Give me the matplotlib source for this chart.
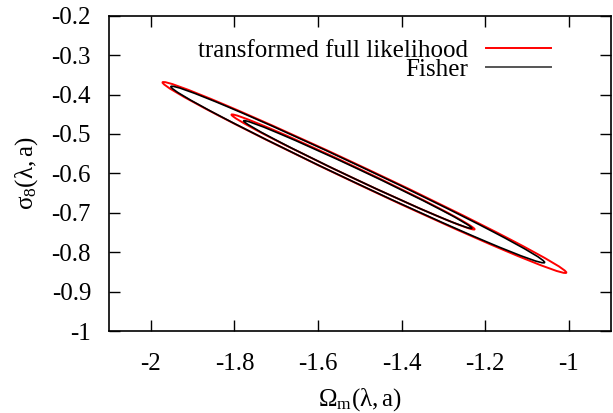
import numpy as np
import matplotlib
matplotlib.use("Agg")
import matplotlib.pyplot as plt
from matplotlib.patches import Ellipse
from matplotlib.lines import Line2D

# Fisher forecast: fiducial point, marginal errors and correlation
fid_omega = -1.505
fid_sigma8 = -0.603
err_omega = 0.180
err_sigma8 = 0.0902
corr = -0.9945
dchi2_levels = [2.30, 6.17]          # 68.3% and 95.4% regions in 2D

# Transformed full likelihood contours (68.3%, 95.4%):
# end points along the degeneracy direction and half-width across it
like_lo_omega = [-1.807, -1.972]
like_lo_sigma8 = [-0.451, -0.369]
like_hi_omega = [-1.2255, -1.006]
like_hi_sigma8 = [-0.742, -0.852]
like_halfwidth = [0.0137, 0.0220]

x_ticks = [-2.0, -1.8, -1.6, -1.4, -1.2, -1.0]
x_ticklabels = ["-2", "-1.8", "-1.6", "-1.4", "-1.2", "-1"]
y_ticks = [-1.0, -0.9, -0.8, -0.7, -0.6, -0.5, -0.4, -0.3, -0.2]
y_ticklabels = ["-1", "-0.9", "-0.8", "-0.7", "-0.6", "-0.5", "-0.4", "-0.3", "-0.2"]

plt.rcParams["font.family"] = ["Liberation Serif", "DejaVu Serif"]
plt.rcParams["mathtext.fontset"] = "custom"
plt.rcParams["mathtext.rm"] = "Liberation Serif"
plt.rcParams["mathtext.it"] = "Liberation Serif"
plt.rcParams["mathtext.bf"] = "Liberation Serif:bold"

FS = 18
fig = plt.figure(figsize=(6.13, 4.13), dpi=100)
ax = fig.add_axes([0.178, 0.1985, 0.818, 0.7635])

# full likelihood contours
for k in range(len(like_lo_omega)):
    x0, y0 = like_lo_omega[k], like_lo_sigma8[k]
    x1, y1 = like_hi_omega[k], like_hi_sigma8[k]
    length = np.hypot(x1 - x0, y1 - y0)
    ang = np.degrees(np.arctan2(y1 - y0, x1 - x0))
    ax.add_patch(Ellipse(((x0 + x1) / 2, (y0 + y1) / 2), length,
                         2 * like_halfwidth[k], angle=ang,
                         fill=False, edgecolor="#ff0000", lw=1.4, zorder=2))

# Fisher ellipses from the covariance matrix
cov = np.array([[err_omega ** 2, corr * err_omega * err_sigma8],
                [corr * err_omega * err_sigma8, err_sigma8 ** 2]])
vals, vecs = np.linalg.eigh(cov)
major = vecs[:, 1]
fisher_angle = np.degrees(np.arctan2(major[1], major[0]))
for lev in dchi2_levels:
    ax.add_patch(Ellipse((fid_omega, fid_sigma8),
                         2 * np.sqrt(lev * vals[1]), 2 * np.sqrt(lev * vals[0]),
                         angle=fisher_angle, fill=False, edgecolor="black",
                         lw=1.2, zorder=3))

ax.set_xlim(-2.1, -0.9)
ax.set_ylim(-1.0, -0.2)
ax.set_xticks(x_ticks)
ax.set_xticklabels(x_ticklabels)
ax.set_yticks(y_ticks)
ax.set_yticklabels(y_ticklabels)
ax.tick_params(direction="in", length=8, width=1.0, top=True, right=True,
               labelsize=FS, color="black")
ax.tick_params(axis="x", pad=16)
ax.tick_params(axis="y", pad=13)
for s in ax.spines.values():
    s.set_linewidth(1.2)

ax.set_xlabel(r"$\Omega_{m}(\lambda,a)$", fontsize=FS, labelpad=8)
ax.set_ylabel(r"$\sigma_{8}(\lambda,a)$", fontsize=FS, labelpad=8)

handles = [Line2D([], [], color="#ff0000", lw=1.4),
           Line2D([], [], color="#555555", lw=1.4)]
ax.legend(handles, ["transformed full likelihood", "Fisher"],
          loc="upper right", bbox_to_anchor=(0.881, 0.925), frameon=False,
          markerfirst=False, fontsize=FS, handlelength=2.6,
          handletextpad=0.7, labelspacing=-0.13, borderpad=0.0,
          borderaxespad=0.0)

fig.savefig("out.png", dpi=100)
